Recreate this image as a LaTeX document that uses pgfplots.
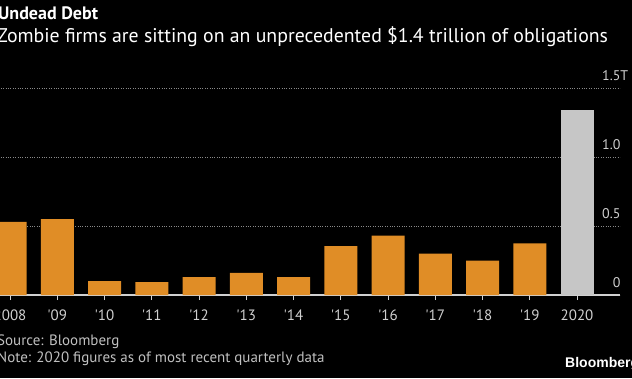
\documentclass[border=0pt]{standalone}
\usepackage{pgfplots}
\pgfplotsset{compat=1.18}
\usepackage{fontspec}
\setmainfont{PT Sans}
\newfontfamily\logofont{Liberation Sans}
\definecolor{barorange}{HTML}{E08D26}
\definecolor{bargray}{HTML}{C6C6C6}
\definecolor{gridc}{HTML}{8A8A8A}
\definecolor{tickc}{HTML}{D0D0D0}
\definecolor{footc}{HTML}{C0C0C0}
\begin{document}
\begin{tikzpicture}[x=1pt,y=1pt]
\fill[black] (0,0) rectangle (632,378);
\clip (0,0) rectangle (632,378);
\begin{scope}[overlay]
\begin{axis}[
  at={(-13.6pt,83pt)}, anchor=south west,
  scale only axis, width=633.6pt, height=207pt,
  xmin=-0.5, xmax=12.91, ymin=0, ymax=1.5,
  ybar, bar width=33pt, bar shift=0pt,
  axis y line*=right,
  y axis line style={draw=none},
  axis x line*=bottom,
  x axis line style={draw=tickc, line width=1.6pt, -},
  xtick={0,...,12},
  xticklabels={2008,\textquotesingle 09,\textquotesingle 10,\textquotesingle 11,\textquotesingle 12,\textquotesingle 13,\textquotesingle 14,\textquotesingle 15,\textquotesingle 16,\textquotesingle 17,\textquotesingle 18,\textquotesingle 19,2020},
  tick align=outside, major tick length=5pt,
  xtick style={draw=tickc, line width=0.8pt},
  ytick style={draw=none},
  xticklabel style={font=\fontsize{15}{17}\selectfont, text=tickc, yshift=-6pt},
  ytick={0,0.5,1,1.5},
  yticklabels={0,0.5,1.0,1.5\rlap{T}},
  yticklabel style={anchor=south east, font=\fontsize{14}{16}\selectfont, text=tickc, xshift=-1pt, yshift=4pt},
  ymajorgrids,
  grid style={draw=gridc, dotted, line width=0.8pt},
  clip=false,
]
\addplot[fill=barorange, draw=none] coordinates {(0,0.53) (1,0.55) (2,0.10) (3,0.094) (4,0.13) (5,0.16) (6,0.13) (7,0.355) (8,0.43) (9,0.30) (10,0.25) (11,0.375)};
\addplot[fill=bargray, draw=none] coordinates {(12,1.34)};
\end{axis}
\node[anchor=base west, inner sep=0, text=white, font=\bfseries\fontsize{18}{21}\selectfont] at (-2,358) {Undead Debt};
\node[anchor=base west, inner sep=0, text=white, font=\fontsize{19.8}{22}\selectfont] at (-3,335) {Zombie firms are sitting on an unprecedented \$1.4 trillion of obligations};
\node[anchor=base west, inner sep=0, text=footc, font=\fontsize{15}{17}\selectfont] at (-3,33) {Source: Bloomberg};
\node[anchor=base west, inner sep=0, text=footc, font=\fontsize{15}{17}\selectfont] at (-3,16) {Note: 2020 figures as of most recent quarterly data};
\node[anchor=base west, inner sep=0, text=white, font=\logofont\bfseries\fontsize{14}{16}\selectfont] at (565,11) {Bloomberg};
\end{scope}
\end{tikzpicture}
\end{document}
